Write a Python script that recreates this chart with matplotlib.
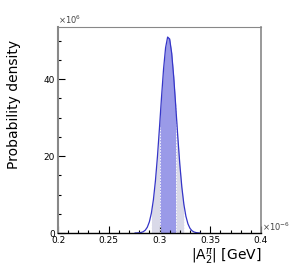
import numpy as np
import matplotlib.pyplot as plt
from matplotlib.ticker import MultipleLocator, FormatStrFormatter

# |A2^pi| values (x 1e-6 GeV) and probability density (x 1e6)
x_vals = [0.276, 0.278, 0.280, 0.282, 0.284, 0.286, 0.288, 0.290, 0.292, 0.294,
          0.296, 0.298, 0.300, 0.302, 0.304, 0.306, 0.308, 0.310, 0.312, 0.314,
          0.316, 0.318, 0.320, 0.322, 0.324, 0.326, 0.328, 0.330, 0.332, 0.334,
          0.336, 0.338, 0.340]
density = [0.0, 0.02, 0.06, 0.15, 0.34, 0.74, 1.51, 2.89, 5.17, 8.65,
           13.58, 19.94, 27.44, 35.33, 42.62, 48.13, 50.9, 50.39, 46.73, 40.57,
           32.97, 25.1, 17.89, 11.94, 7.46, 4.37, 2.39, 1.23, 0.59, 0.27,
           0.11, 0.04, 0.0]
band68 = (0.300, 0.316)
band95 = (0.292, 0.324)

x = np.array(x_vals)
y = np.array(density)

fig = plt.figure(figsize=(2.9, 2.75), dpi=100)
ax = fig.add_axes([0.2, 0.1527, 0.7, 0.749])

in95 = (x >= band95[0]) & (x <= band95[1])
in68 = (x >= band68[0]) & (x <= band68[1])
ax.fill_between(x, 0, y, where=in95, color='#d9d9e8', lw=0)
ax.fill_between(x, 0, y, where=in68, color='#9a9ae8', lw=0)
for b in band95 + band68:
    ax.plot([b, b], [0, np.interp(b, x, y)], color='white', lw=0.6, ls=(0, (2, 1.5)))
ax.plot(x, y, color='#3535c8', lw=0.9)

ax.set_xlim(0.2, 0.4)
ax.set_ylim(0, 53.5)
ax.xaxis.set_major_locator(MultipleLocator(0.05))
ax.xaxis.set_minor_locator(MultipleLocator(0.01))
ax.xaxis.set_major_formatter(FormatStrFormatter('%g'))
ax.yaxis.set_major_locator(MultipleLocator(20))
ax.yaxis.set_minor_locator(MultipleLocator(5))
ax.tick_params(which='both', direction='in', top=False, right=False,
               labelsize=6.5, colors='black', pad=2)
ax.tick_params(which='major', length=5, width=0.8)
ax.tick_params(which='minor', length=2.5, width=0.8)

for s in ['left', 'top', 'right']:
    ax.spines[s].set_color('#888888')
ax.spines['left'].set_linewidth(1.5)
ax.spines['right'].set_linewidth(1.2)
ax.spines['top'].set_linewidth(0.8)
ax.spines['bottom'].set_color('black')
ax.spines['bottom'].set_linewidth(1.0)

ax.text(0.0, 1.005, r'$\times10^{6}$', transform=ax.transAxes, fontsize=6,
        color='#444444', ha='left', va='bottom')
ax.text(1.005, 0.0, r'$\times10^{-6}$', transform=ax.transAxes, fontsize=6,
        color='#444444', ha='left', va='bottom')

fig.text(0.05, 0.62, 'Probability density', rotation=90, fontsize=10,
         ha='center', va='center')
fig.text(0.9, 0.03, r'$|\mathrm{A}^{\pi}_{2}|$ [GeV]', fontsize=10,
         ha='right', va='bottom')

fig.savefig('out.png', dpi=100)
